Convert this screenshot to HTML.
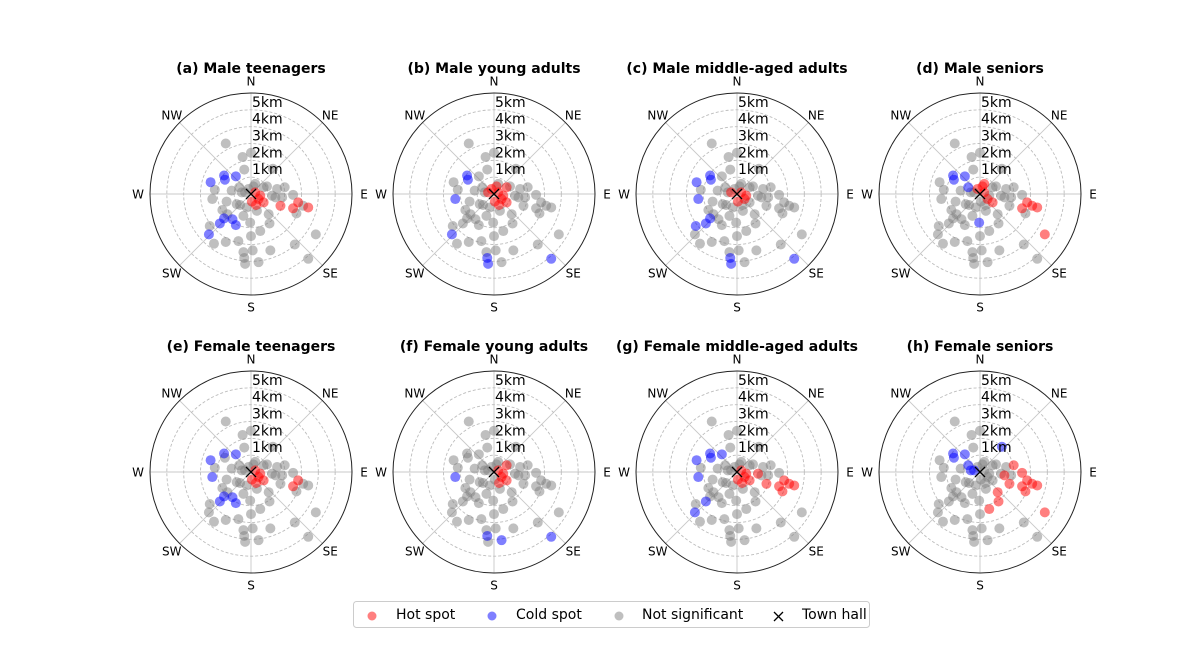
<!DOCTYPE html>
<html><head><meta charset="utf-8"><style>
html,body{margin:0;padding:0;background:#fff}
svg{display:block;font-family:"DejaVu Sans","Liberation Sans",sans-serif}
</style></head><body>
<svg id="fig" width="1200" height="660" viewBox="0 0 1200 660"></svg>
<script>
// Shared site locations (km east, km north of town hall)
const eastKm = [-1.5,0,-0.5,-0.4,1.3,-0.9,-1.6,-1.55,-2.4,-2.15,-2.3,-1.45,-1.15,-0.7,-0.85,0.25,0.95,1.55,2.0,1.45,1.85,2.5,1.75,2.5,2.8,3.4,2.7,3.1,1.05,0.35,1.1,-0.05,0.55,0,-0.45,-1.1,-0.9,-1.6,-1.85,-1.4,-1.7,-2.45,-2.5,-2.2,-1.5,-0.75,-0.45,-0.4,-0.35,0.1,0.45,1.15,2.6,3.4,3.85,-0.55,-0.65,-0.25,0.25,0.45,0.75,0.05,0.55,0.75,0.15,-0.15,-0.35,0.3,1.25];
const northKm = [3.0,2.45,2.2,1.45,1.5,1.05,1.1,0.85,0.7,0.25,-0.3,-0.45,0.2,0.4,-0.6,0.6,0.45,0.3,0.4,-0.2,-0.2,-0.05,-0.7,-0.85,-0.5,-0.8,-1.15,-0.7,-1.2,-1.0,-1.75,-1.7,-2.2,-2.5,-1.3,-1.5,-1.85,-1.45,-1.75,-1.2,-0.95,-1.9,-2.4,-2.95,-2.85,-2.8,-3.45,-3.8,-4.15,-3.35,-4.05,-3.35,-3.0,-3.85,-2.4,0.1,-0.65,-0.8,0.1,-0.3,-0.5,-0.45,-0.1,0.4,0.45,0.3,0.1,-0.65,-0.1];
const panelTitles = ["(a) Male teenagers","(b) Male young adults","(c) Male middle-aged adults","(d) Male seniors","(e) Female teenagers","(f) Female young adults","(g) Female middle-aged adults","(h) Female seniors"];
const hotIdx = [
 [58,59,60,61,62,67,22,23,24,25],
 [58,59,60,61,62,63,64,65,66,67],
 [58,59,61,62,66],
 [15,64,65,58,59,60,23,24,25,27,54],
 [58,59,60,61,62,67,23,24],
 [58,59,60,62,67,63],
 [58,59,60,61,62,67,68,22,23,24,25,26,27],
 [18,21,19,22,23,24,25,26,27,28,30,32,54]
];
const coldIdx = [
 [8,6,7,5,37,38,35,36,42],
 [6,7,10,42,47,48,53],
 [6,7,8,10,37,38,41,47,48,53],
 [6,7,5,13,31],
 [6,8,10,5,37,38,35,36],
 [10,47,50,53],
 [6,7,5,8,10,38,42],
 [4,5,6,7,13,55,66]
];
const ringKm = [1,2,3,4,5];
const ringLabels = ["1km","2km","3km","4km","5km"];
const dirLabels = ["N","NE","E","SE","S","SW","W","NW"];
const maxKm = 6;

const NS="http://www.w3.org/2000/svg";
const svg=document.getElementById('fig');
function mk(tag,attrs,parent){const e=document.createElementNS(NS,tag);for(const k in attrs)e.setAttribute(k,attrs[k]);(parent||svg).appendChild(e);return e;}
const R=101;
const colX=[251,494,737,980], rowY=[194,472];
function rScale(km){return km/maxKm*R;}

panelTitles.forEach((title,p)=>{
  const cx=colX[p%4], cy=rowY[Math.floor(p/4)];
  const g=mk('g',{});
  
  
  const t=mk('text',{x:cx,y:cy-121,'text-anchor':'middle','font-size':14,'font-weight':'bold',fill:'#000'},g);
  t.textContent=title;
  
  
  for(let i=0;i<8;i++){const a=i*Math.PI/4;
    const l=mk('line',{x1:cx,y1:cy,x2:cx+R*Math.sin(a),y2:cy-R*Math.cos(a),stroke:'#c8c8c8','stroke-width':0.9},g);
    
    
  }
  ringKm.forEach(k=>{
    const c=mk('circle',{cx:cx,cy:cy,r:rScale(k),fill:'none',stroke:'#bdbdbd','stroke-width':0.9,'stroke-dasharray':'3,2'},g);
    
    
  });
  const oc=mk('circle',{cx:cx,cy:cy,r:R,fill:'none',stroke:'#222','stroke-width':1},g);
  
  
  dirLabels.forEach((d,i)=>{const a=i*Math.PI/4;const dist=(i%2)?112:113;
    const tx=mk('text',{x:cx+dist*Math.sin(a),y:cy-dist*Math.cos(a)+4.5,'text-anchor':'middle','font-size':12,fill:'#000'},g);
    tx.textContent=d;
    
    
  });
  const cls=eastKm.map((_,i)=>hotIdx[p].includes(i)?'hot':(coldIdx[p].includes(i)?'cold':'ns'));
  ['ns','cold','hot'].forEach(kind=>{
    eastKm.forEach((e,i)=>{ if(cls[i]!==kind)return;
      const col=kind==='hot'?'#ff0000':kind==='cold'?'#0000ff':'#808080';
      const c=mk('circle',{cx:cx+rScale(e),cy:cy-rScale(northKm[i]),r:5,fill:col,'fill-opacity':0.5},g);
      
      
    });
  });
  ringKm.forEach((k,i)=>{
    const tx=mk('text',{x:cx+1,y:cy-rScale(k)-3,'font-size':14,fill:'#000'},g);
    tx.textContent=ringLabels[i];
    
    
  });
  const x=mk('path',{d:`M${cx-5},${cy-5}L${cx+5},${cy+5}M${cx-5},${cy+5}L${cx+5},${cy-5}`,stroke:'#000','stroke-width':1.3},g);
  
  
});

const lg=mk('g',{});


const box=mk('rect',{x:353.5,y:601.5,width:516,height:26,rx:3,fill:'#fff',stroke:'#ccc'},lg);


const items=[["Hot spot","#ff0000",372,396],["Cold spot","#0000ff",492,516],["Not significant","#808080",619,642]];
items.forEach(it=>{
  const c=mk('circle',{cx:it[2],cy:616,r:4.5,fill:it[1],'fill-opacity':0.5},lg);
  
  
  const t=mk('text',{x:it[3],y:619,'font-size':14,fill:'#000'},lg);
  t.textContent=it[0];
  
  
});
const lx=mk('path',{d:'M774,612L783,621M774,621L783,612',stroke:'#000','stroke-width':1.3},lg);


const lt=mk('text',{x:802,y:619,'font-size':14,fill:'#000'},lg);
lt.textContent="Town hall";


</script>
</body></html>
